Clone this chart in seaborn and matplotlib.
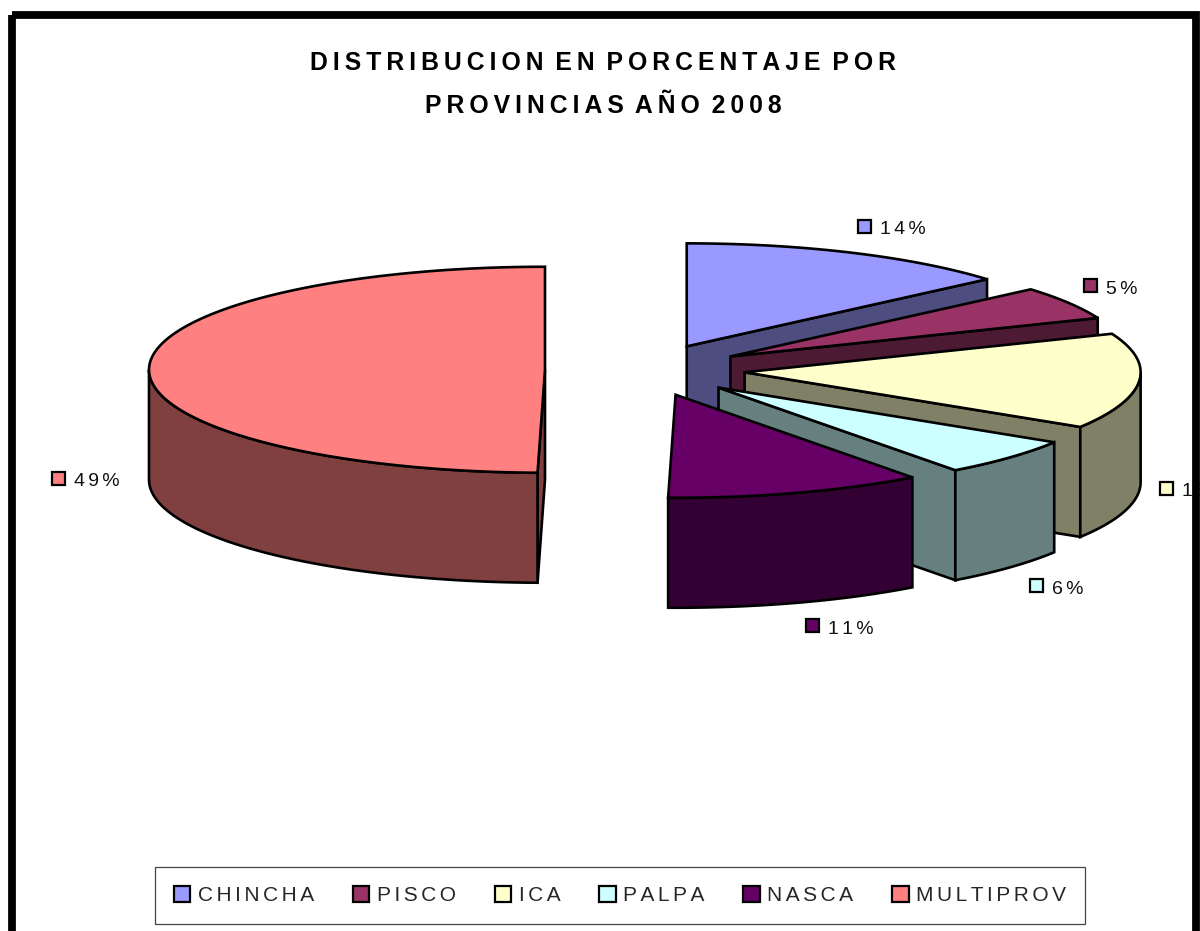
import numpy as np
import seaborn as sns
import matplotlib.pyplot as plt
from matplotlib.patches import Patch, Rectangle

# Valores
provincias = ['CHINCHA', 'PISCO', 'ICA', 'PALPA', 'NASCA', 'MULTIPROV']
valores = [13.7, 5.2, 15.0, 5.9, 10.5, 49.7]
etiquetas = ['14%', '5%', '15%', '6%', '11%', '49%']
colores = ['#9999FF', '#993366', '#FFFFCC', '#CCFFFF', '#660066', '#FF8080']
titulo = 'DISTRIBUCION EN PORCENTAJE POR\nPROVINCIAS AÑO 2008'

# Geometria de la torta 3D, en pixeles de la imagen
CX, CY = 645, 370
RX, RY = 396, 103
ALTO = 110
EXPLOSION = 100
# Posicion de la cajita de cada etiqueta
pos_etiquetas = [(858, 220), (1084, 279), (1160, 482), (1030, 579), (806, 619), (52, 472)]


def espaciar(texto, sep='\u200a\u200a', sep_palabra=' '):
    lineas = []
    for linea in texto.split('\n'):
        lineas.append(sep_palabra.join(sep.join(p) for p in linea.split(' ')))
    return '\n'.join(lineas)


def punto(cx, cy, ang):
    # angulo en grados, horario desde arriba
    r = np.radians(ang)
    return cx + RX * np.sin(r), cy - RY * np.cos(r)


def cara(ax, xs, ys, color, z):
    ax.fill(xs, ys, facecolor=color, edgecolor='black', linewidth=1.9, joinstyle='miter', zorder=z)


def dibujar_porcion(ax, ini, fin, color, z):
    medio = np.radians((ini + fin) / 2)
    cx = CX + EXPLOSION * np.sin(medio)
    cy = CY - EXPLOSION * RY / RX * np.cos(medio)
    oscuro = tuple(np.array(color) * 0.5)

    # caras radiales visibles
    for ang, visible in ((ini, ini > 180), (fin, fin < 180)):
        if visible:
            x, y = punto(cx, cy, ang)
            cara(ax, [cx, x, x, cx], [cy, y, y + ALTO, cy + ALTO], oscuro, z)

    # borde exterior visible (mitad delantera)
    a, b = max(ini, 90), min(fin, 270)
    if a < b:
        t = np.linspace(a, b, 80)
        x, y = punto(cx, cy, t)
        cara(ax, np.r_[x, x[::-1]], np.r_[y, y[::-1] + ALTO], oscuro, z)

    # tapa superior
    t = np.linspace(ini, fin, 160)
    x, y = punto(cx, cy, t)
    cara(ax, np.r_[cx, x], np.r_[cy, y], color, z)


sns.set_theme(style='white')
plt.rcParams['font.family'] = ['Liberation Sans', 'DejaVu Sans']
paleta = sns.color_palette(colores)

fig, ax = plt.subplots(figsize=(12, 9.31), dpi=100)
ax.set_position([0, 0, 1, 1])
ax.set_xlim(0, 1200)
ax.set_ylim(931, 0)
ax.axis('off')

# Angulos de cada porcion a partir de los valores
fracciones = np.array(valores) / np.sum(valores) * 360
fines = np.cumsum(fracciones)
inicios = fines - fracciones

# Primero MULTIPROV, luego el resto de atras hacia adelante
orden = [5, 0, 1, 2, 3, 4]
for z, i in enumerate(orden, start=2):
    dibujar_porcion(ax, inicios[i], fines[i], paleta[i], z)

# Etiquetas con su cajita de color
for (x, y), texto, color in zip(pos_etiquetas, etiquetas, paleta):
    ax.add_patch(Rectangle((x, y), 13, 13, facecolor=color, edgecolor='black', linewidth=1.6, zorder=8))
    ax.text(x + 22, y + 10, espaciar(texto), fontsize=14, color='#111111', va='center', ha='left', zorder=8)

ax.text(603, 84.5, espaciar(titulo, sep='\u2009', sep_palabra='\u2009 '), fontsize=17.8, fontweight='bold',
        color='black', ha='center', va='center', linespacing=2.0, multialignment='center', zorder=8)

# Marco negro, recortado por abajo
ax.add_patch(Rectangle((11.5, 15), 1184.5, 1000, facecolor='none', edgecolor='black', linewidth=5.6, zorder=10))

manijas = [Patch(facecolor=c, edgecolor='black', linewidth=1.6) for c in paleta]
leyenda = ax.legend(manijas, [espaciar(p) for p in provincias], ncol=6, loc='center',
                    bbox_to_anchor=(620 / 1200, 1 - 895.5 / 931), fontsize=15, frameon=True, fancybox=False,
                    edgecolor='#444444', framealpha=1, borderpad=0.9, handlelength=0.8, handleheight=0.8,
                    handletextpad=0.35, columnspacing=1.87, borderaxespad=0)
leyenda.get_frame().set_linewidth(0.9)

fig.savefig('out.png', dpi=100)
